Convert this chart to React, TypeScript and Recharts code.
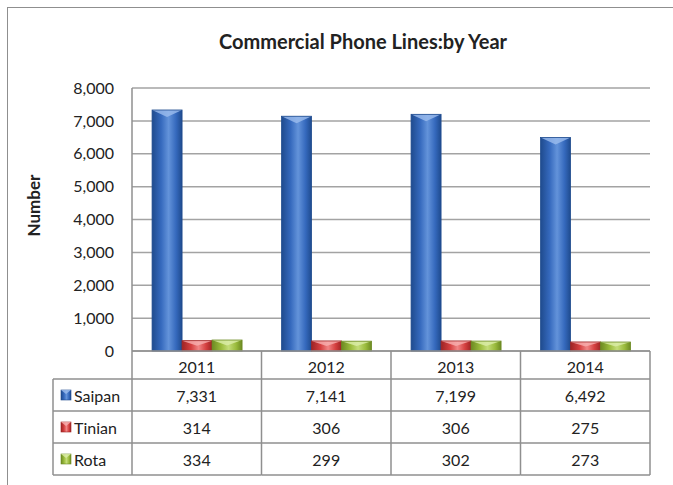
import React from "react";
import { BarChart, Bar, XAxis, YAxis, CartesianGrid } from "recharts";

const years = ["2011", "2012", "2013", "2014"];
const saipan = [7331, 7141, 7199, 6492];
const tinian = [314, 306, 306, 275];
const rota = [334, 299, 302, 273];
const yTicks = [0, 1000, 2000, 3000, 4000, 5000, 6000, 7000, 8000];

const FONT = "Lato, 'Open Sans', sans-serif";
const LINE = "#8f8f8f";

const series = [
  { key: "Saipan", values: saipan, base: "#3569bd", light: "#6393da", dark: "#1f4b8e", cap: "#9cbdee" },
  { key: "Tinian", values: tinian, base: "#d43f3f", light: "#f08585", dark: "#9e2424", cap: "#f7b0b0" },
  { key: "Rota", values: rota, base: "#9abb3c", light: "#c3dc78", dark: "#6c8a22", cap: "#dcedaa" },
];

const data = years.map((year, i) => {
  const row: Record<string, any> = { year };
  series.forEach((s) => (row[s.key] = s.values[i]));
  return row;
});

const fmt = (v: number) => v.toLocaleString("en-US");

// column with a bit of the excel 3d look
function Column(props: any) {
  const { x, y, width, height, s } = props;
  if (!height || height <= 0) return null;
  const cap = Math.min(7, height / 2);
  return (
    <g>
      <rect x={x} y={y} width={width} height={height} fill={`url(#grad-${s.key})`} />
      <polygon
        points={`${x},${y} ${x + width},${y} ${x + width * 0.5},${y + cap}`}
        fill={s.cap}
        opacity={0.8}
      />
      <rect x={x} y={y} width={width} height={height} fill="none" stroke={s.dark} strokeWidth={0.8} />
    </g>
  );
}

function LegendIcon({ x, y, s }: any) {
  return (
    <g>
      <rect x={x} y={y} width={10} height={10} fill={`url(#grad-${s.key})`} stroke={s.dark} strokeWidth={0.6} />
      <polygon points={`${x},${y} ${x + 10},${y} ${x + 5},${y + 4}`} fill={s.cap} opacity={0.8} />
    </g>
  );
}

// x axis ticks draw the data table column under each category
function TableTick(props: any) {
  const { x, y, payload, index, width } = props;
  const colW = width / years.length;
  const left = x - colW / 2;
  const right = x + colW / 2;
  const headH = 28;
  const rowH = 32;
  const bottom = y + headH + rowH * series.length;
  const legW = 79;
  return (
    <g fontFamily={FONT} fill="#222">
      {index === 0 && (
        <g>
          <line x1={left} x2={left} y1={y} y2={bottom} stroke={LINE} strokeWidth={1.5} />
          <line x1={left - legW} x2={left - legW} y1={y + headH} y2={bottom} stroke={LINE} strokeWidth={1.5} />
          {series.map((s, i) => (
            <g key={s.key}>
              <line
                x1={left - legW}
                x2={left}
                y1={y + headH + rowH * i}
                y2={y + headH + rowH * i}
                stroke={LINE}
                strokeWidth={1.5}
              />
              <LegendIcon x={left - legW + 8} y={y + headH + rowH * i + 11} s={s} />
              <text x={left - legW + 21} y={y + headH + rowH * i + 16} dominantBaseline="central" fontSize={16}>
                {s.key}
              </text>
            </g>
          ))}
          <line x1={left - legW} x2={left} y1={bottom} y2={bottom} stroke={LINE} strokeWidth={1.5} />
        </g>
      )}
      <line x1={right} x2={right} y1={y} y2={bottom} stroke={LINE} strokeWidth={1.5} />
      <text x={x} y={y + headH / 2 + 1} textAnchor="middle" dominantBaseline="central" fontSize={16}>
        {payload.value}
      </text>
      {series.map((s, i) => (
        <g key={s.key}>
          <line
            x1={left}
            x2={right}
            y1={y + headH + rowH * i}
            y2={y + headH + rowH * i}
            stroke={LINE}
            strokeWidth={1.5}
          />
          <text x={x} y={y + headH + rowH * i + 16} textAnchor="middle" dominantBaseline="central" fontSize={16}>
            {fmt(s.values[index])}
          </text>
        </g>
      ))}
      <line x1={left} x2={right} y1={bottom} y2={bottom} stroke={LINE} strokeWidth={1.5} />
    </g>
  );
}

export default function App() {
  return (
    <div
      style={{
        position: "absolute",
        left: 0,
        top: 0,
        width: 673,
        height: 485,
        background: "#fff",
        overflow: "hidden",
      }}
    >
      <div
        style={{
          position: "absolute",
          left: 7,
          top: 7,
          width: 700,
          height: 500,
          borderLeft: `1.5px solid ${LINE}`,
          borderTop: `1.5px solid ${LINE}`,
        }}
      />
      <div
        style={{
          position: "absolute",
          left: 0,
          top: 29,
          width: 726,
          textAlign: "center",
          fontFamily: FONT,
          fontWeight: 700,
          fontSize: 20,
          color: "#222",
        }}
      >
        Commercial Phone Lines:by Year
      </div>
      <div style={{ position: "absolute", left: 0, top: 0 }}>
        <BarChart
          width={673}
          height={485}
          data={data}
          margin={{ top: 88, right: 23, bottom: 0, left: 0 }}
          barCategoryGap="15.5%"
          barGap={0}
        >
          <defs>
            {series.map((s) => (
              <linearGradient key={s.key} id={`grad-${s.key}`} x1="0" y1="0" x2="1" y2="0">
                <stop offset="0%" stopColor={s.dark} />
                <stop offset="30%" stopColor={s.base} />
                <stop offset="55%" stopColor={s.light} />
                <stop offset="80%" stopColor={s.base} />
                <stop offset="100%" stopColor={s.dark} />
              </linearGradient>
            ))}
          </defs>
          <CartesianGrid vertical={false} stroke="#a3a3a3" strokeWidth={1.5} />
          <XAxis
            dataKey="year"
            height={134}
            tickLine={false}
            tickSize={0}
            tickMargin={0}
            axisLine={{ stroke: LINE, strokeWidth: 1.5 }}
            tick={<TableTick />}
            interval={0}
          />
          <YAxis
            width={132}
            domain={[0, 8000]}
            ticks={yTicks}
            tickFormatter={fmt}
            tickLine={false}
            tickSize={6}
            tickMargin={12}
            axisLine={{ stroke: LINE, strokeWidth: 1.5 }}
            tick={{ fill: "#222", fontSize: 16, fontFamily: FONT }}
            label={{
              content: ({ viewBox }: any) => (
                <text
                  x={viewBox.x + 33}
                  y={viewBox.y + viewBox.height / 2 - 14}
                  transform={`rotate(-90, ${viewBox.x + 33}, ${viewBox.y + viewBox.height / 2 - 14})`}
                  textAnchor="middle"
                  dominantBaseline="central"
                  fontFamily={FONT}
                  fontWeight={700}
                  fontSize={17}
                  fill="#222"
                >
                  Number
                </text>
              ),
            }}
          />
          {series.map((s) => (
            <Bar
              key={s.key}
              dataKey={s.key}
              isAnimationActive={false}
              shape={(p: any) => <Column {...p} s={s} />}
            />
          ))}
        </BarChart>
      </div>
    </div>
  );
}
